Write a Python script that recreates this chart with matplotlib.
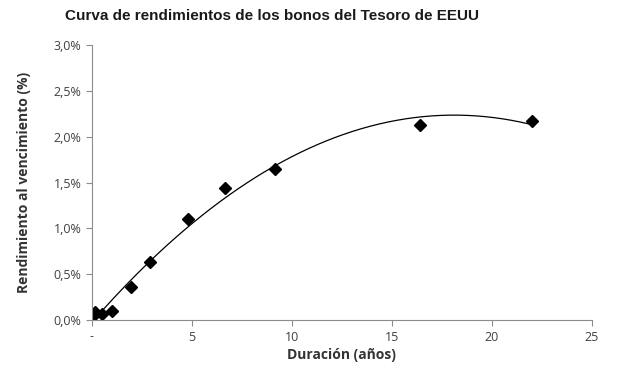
import numpy as np
import matplotlib.pyplot as plt
from matplotlib.ticker import FuncFormatter

# Duration (years) and yield to maturity (%) of each bond
duracion = [0.0, 0.13, 0.5, 1.0, 1.97, 2.92, 4.8, 6.65, 9.15, 16.4, 22.0]
rendimiento = [0.03, 0.09, 0.065, 0.10, 0.357, 0.63, 1.10, 1.44, 1.65, 2.13, 2.17]

x_ticks = [0, 5, 10, 15, 20, 25]
y_ticks = [0.0, 0.5, 1.0, 1.5, 2.0, 2.5, 3.0]

fig = plt.figure(figsize=(6.17, 3.65), dpi=100)
ax = fig.add_axes([0.149, 0.123, 0.81, 0.754])

# Excel-style polynomial (order 2) trend line
coef = np.polyfit(duracion, rendimiento, 2)
xs = np.linspace(min(duracion), max(duracion), 200)
ax.plot(xs, np.polyval(coef, xs), color='black', lw=0.9)

ax.plot(duracion, rendimiento, linestyle='none', marker='D',
        markersize=6, color='black')

ax.set_xlim(0, 25)
ax.set_ylim(0, 3.0)
ax.set_xticks(x_ticks)
ax.set_yticks(y_ticks)
ax.xaxis.set_major_formatter(FuncFormatter(lambda v, p: '-' if v == 0 else '%d' % v))
ax.yaxis.set_major_formatter(FuncFormatter(lambda v, p: ('%.1f%%' % v).replace('.', ',')))

for side in ['top', 'right']:
    ax.spines[side].set_visible(False)
for side in ['left', 'bottom']:
    ax.spines[side].set_color('#8c8c8c')
ax.tick_params(colors='#8c8c8c', labelcolor='#404040', length=4, width=0.8,
               labelsize=9)
for lab in ax.get_xticklabels() + ax.get_yticklabels():
    lab.set_family('Open Sans')

fig.text(0.441, 0.957, 'Curva de rendimientos de los bonos del Tesoro de EEUU',
         ha='center', va='center', fontsize=11, fontweight='bold',
         family='Liberation Sans', color='#1a1a1a')
ax.set_xlabel('Duración (años)', fontsize=10, fontweight='bold',
              family='Open Sans', color='#333333', labelpad=3)
ax.set_ylabel('Rendimiento al vencimiento (%)', fontsize=10, fontweight='bold',
              family='Open Sans', color='#333333', labelpad=16)

fig.savefig('out.png', dpi=100)
